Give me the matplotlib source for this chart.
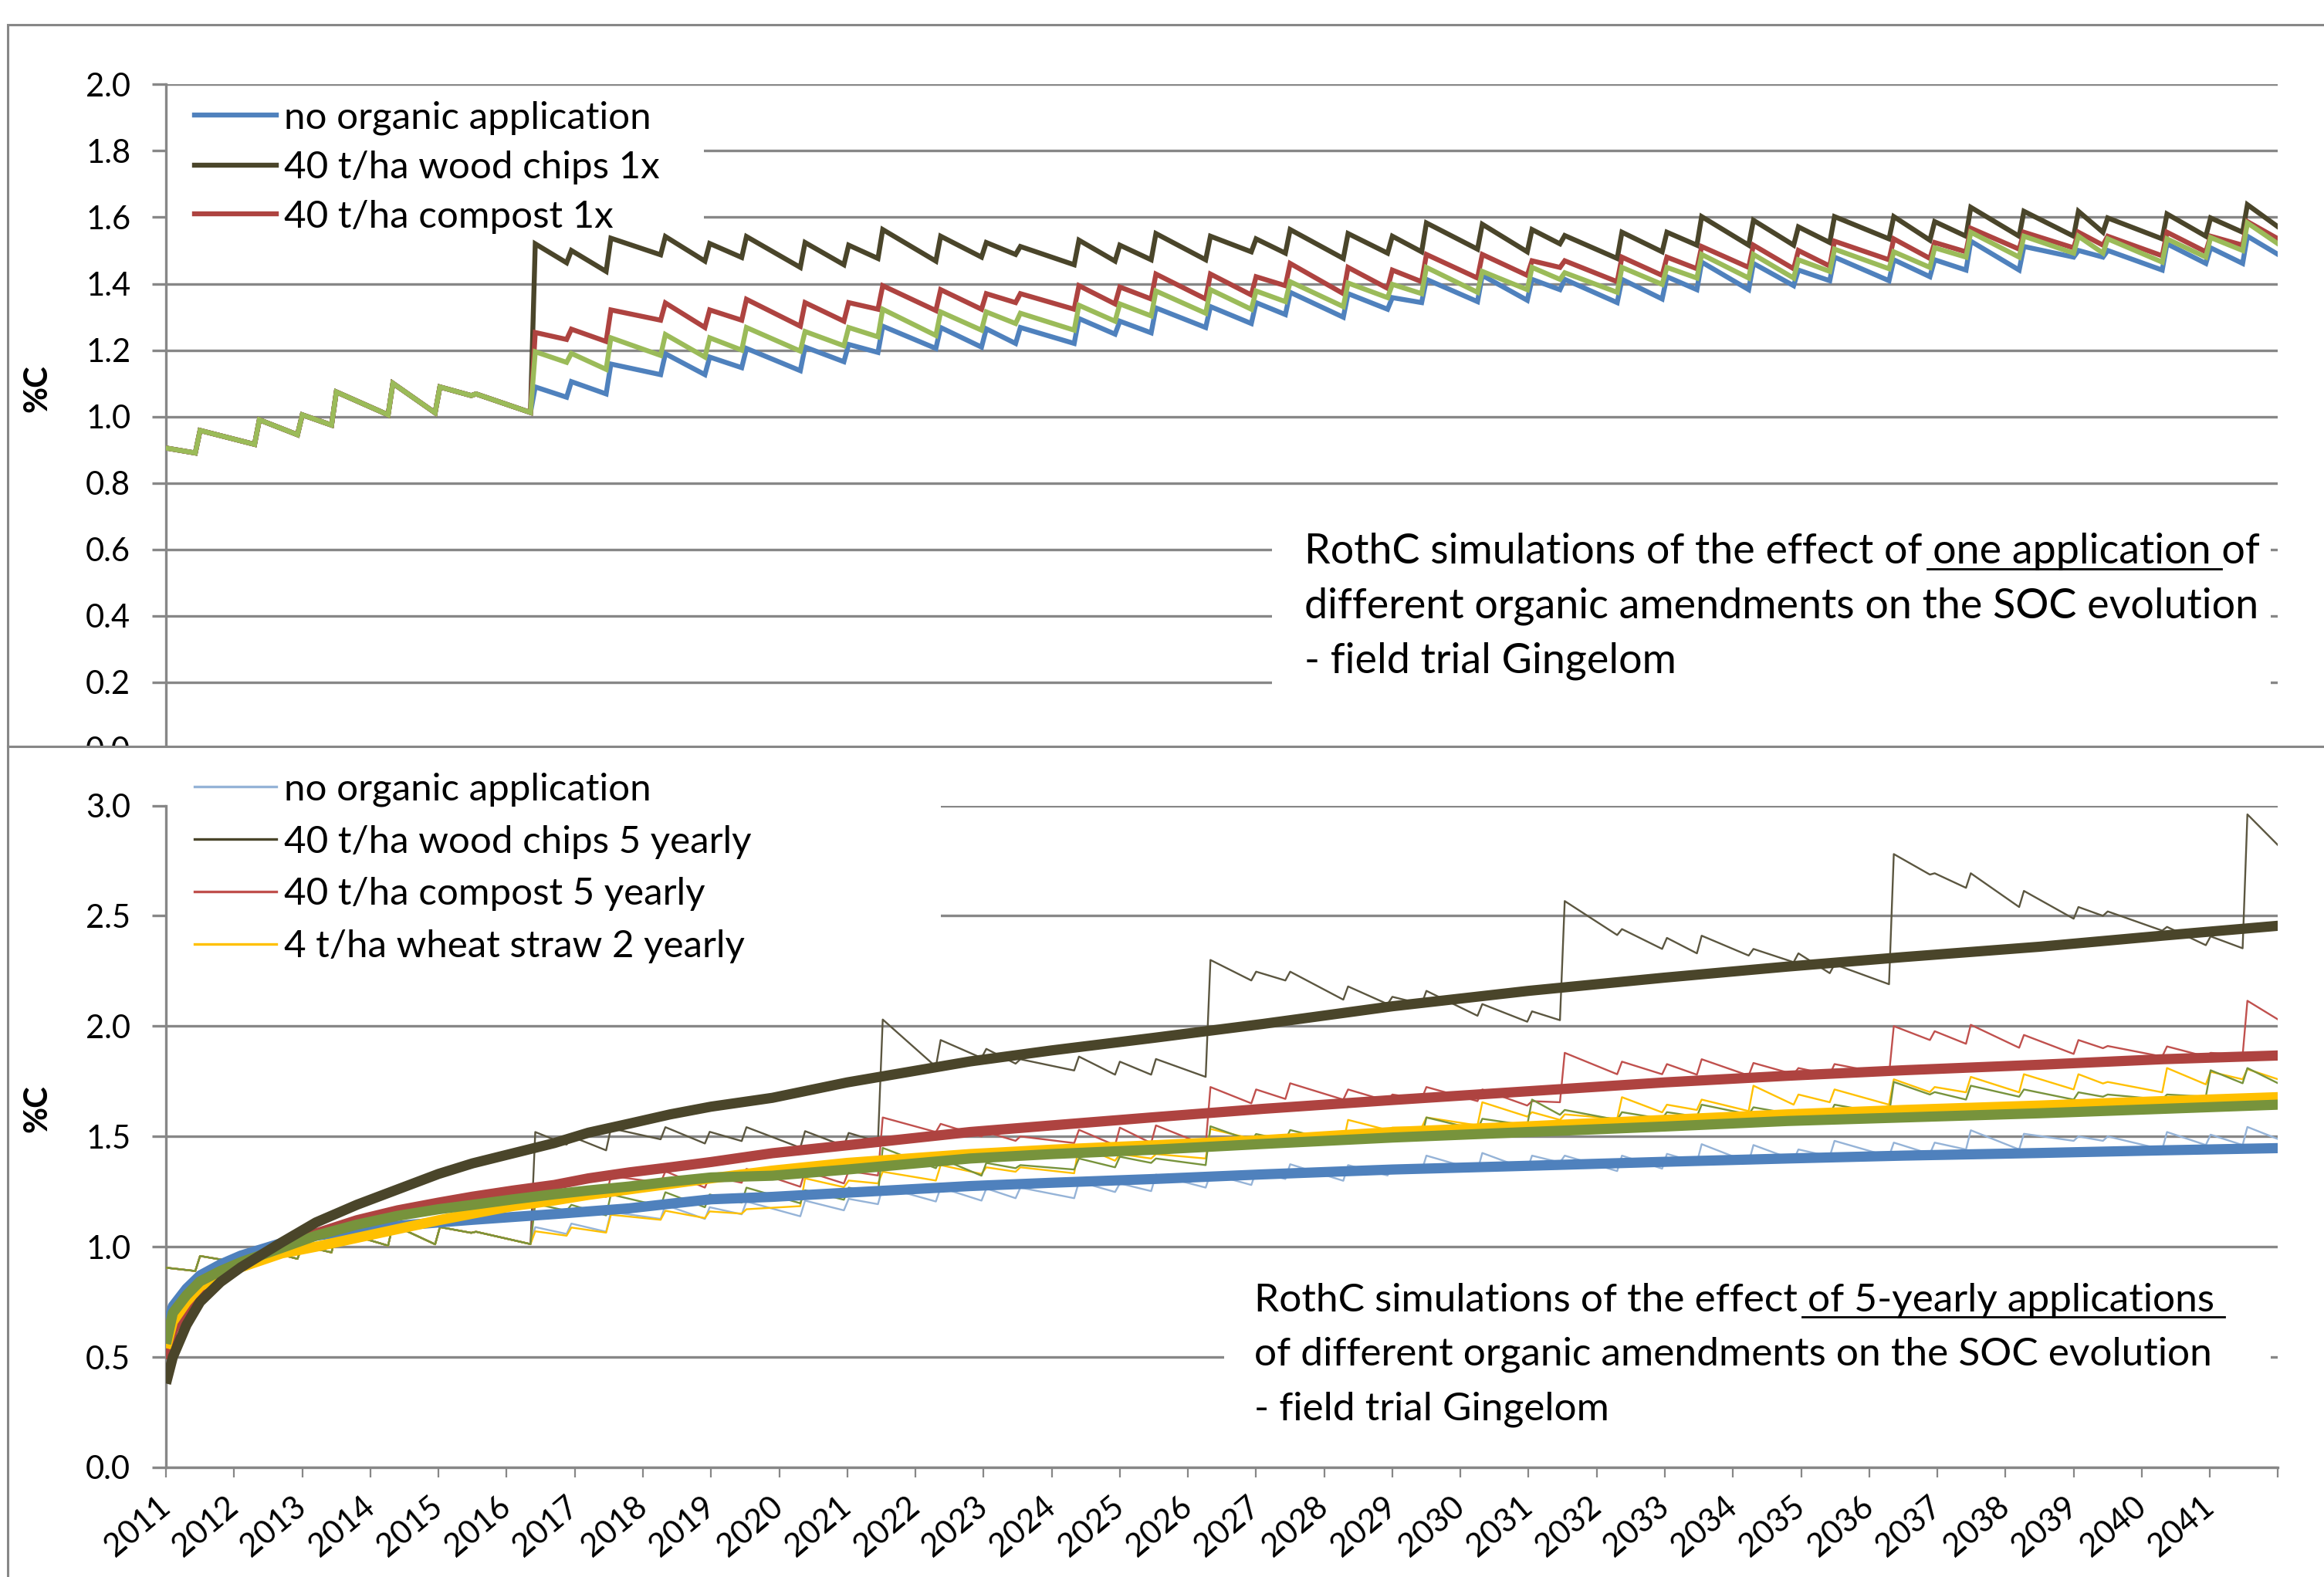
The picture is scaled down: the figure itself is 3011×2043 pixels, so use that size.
import matplotlib
matplotlib.use('Agg')
import matplotlib.pyplot as plt
from matplotlib.patches import Rectangle
from matplotlib.lines import Line2D
from matplotlib.font_manager import FontProperties

FAMILY = ['Lato', 'DejaVu Sans']
plt.rcParams['font.family'] = FAMILY

# ---------------- data ----------------
# times (decimal years) of the residue-input peaks shared by all simulated series
peak_t = [2011.50, 2012.37, 2013.00, 2013.50, 2014.33, 2015.02, 2015.55, 2016.42,
          2016.95, 2017.53, 2018.33, 2018.98, 2019.52, 2020.38, 2021.02, 2021.52,
          2022.37, 2023.04, 2023.54, 2024.40, 2025.00, 2025.53, 2026.33, 2027.00,
          2027.50, 2028.35, 2029.00, 2029.50, 2030.32, 2031.05, 2031.53, 2032.37,
          2033.03, 2033.54, 2034.30, 2034.96, 2035.49, 2036.36, 2036.96, 2037.49,
          2038.27, 2039.07, 2039.50, 2040.37, 2041.01, 2041.55]
t_start, t_end = 2011.0, 2042.0

# common history before the first application (2011 - mid 2016)
soc_start = 0.905
pre_trough = [0.89, 0.916, 0.945, 0.974, 1.005, 1.011, 1.063]
pre_peak = [0.958, 0.99, 1.005, 1.074, 1.10, 1.089, 1.068]

# --- upper chart: one application ---
none_trough = [1.012, 1.058, 1.068, 1.126, 1.126, 1.147, 1.138, 1.165, 1.193, 1.205, 1.209, 1.220, 1.220,
               1.248, 1.252, 1.268, 1.280, 1.307, 1.299, 1.323, 1.343, 1.346, 1.350, 1.382, 1.343, 1.354,
               1.382, 1.382, 1.394, 1.409, 1.409, 1.421, 1.441, 1.441, 1.480, 1.480, 1.441, 1.461, 1.461]
none_peak = [1.089, 1.105, 1.158, 1.189, 1.179, 1.205, 1.209, 1.217, 1.272, 1.268, 1.264, 1.268, 1.295,
             1.287, 1.327, 1.331, 1.343, 1.374, 1.370, 1.358, 1.413, 1.425, 1.413, 1.413, 1.413, 1.421,
             1.465, 1.461, 1.441, 1.480, 1.472, 1.472, 1.528, 1.512, 1.500, 1.500, 1.520, 1.508, 1.543]
none_end = 1.488

wood1_trough = [1.012, 1.463, 1.437, 1.487, 1.468, 1.479, 1.449, 1.457, 1.476, 1.468, 1.480, 1.488, 1.457,
                1.468, 1.472, 1.472, 1.496, 1.492, 1.476, 1.492, 1.496, 1.504, 1.496, 1.520, 1.476, 1.496,
                1.516, 1.516, 1.516, 1.524, 1.535, 1.531, 1.543, 1.543, 1.543, 1.555, 1.535, 1.543, 1.555]
wood1_peak = [1.52, 1.50, 1.537, 1.542, 1.521, 1.542, 1.524, 1.516, 1.563, 1.543, 1.524, 1.512, 1.531,
              1.516, 1.551, 1.543, 1.535, 1.563, 1.551, 1.543, 1.583, 1.579, 1.563, 1.545, 1.555, 1.555,
              1.602, 1.591, 1.571, 1.602, 1.602, 1.587, 1.630, 1.618, 1.618, 1.598, 1.610, 1.598, 1.638]
wood1_end = 1.571

comp1_trough = [1.012, 1.232, 1.226, 1.29, 1.268, 1.29, 1.272, 1.287, 1.323, 1.319, 1.323, 1.343, 1.323,
                1.339, 1.354, 1.354, 1.366, 1.394, 1.370, 1.386, 1.406, 1.417, 1.425, 1.449, 1.406, 1.425,
                1.445, 1.449, 1.445, 1.453, 1.472, 1.476, 1.496, 1.504, 1.508, 1.516, 1.484, 1.496, 1.516]
comp1_peak = [1.253, 1.263, 1.321, 1.342, 1.321, 1.353, 1.343, 1.343, 1.394, 1.382, 1.370, 1.370, 1.394,
              1.390, 1.429, 1.429, 1.421, 1.461, 1.449, 1.441, 1.488, 1.488, 1.469, 1.469, 1.480, 1.480,
              1.512, 1.516, 1.500, 1.528, 1.535, 1.524, 1.567, 1.555, 1.555, 1.543, 1.555, 1.543, 1.587]
comp1_end = 1.535

other1_trough = [1.012, 1.163, 1.142, 1.184, 1.179, 1.20, 1.197, 1.213, 1.240, 1.244, 1.260, 1.280, 1.260,
                 1.287, 1.303, 1.311, 1.323, 1.346, 1.331, 1.358, 1.370, 1.374, 1.382, 1.413, 1.374, 1.398,
                 1.417, 1.417, 1.417, 1.437, 1.445, 1.449, 1.480, 1.480, 1.492, 1.492, 1.465, 1.480, 1.500]
other1_peak = [1.195, 1.19, 1.237, 1.247, 1.237, 1.268, 1.256, 1.268, 1.323, 1.315, 1.315, 1.311, 1.335,
               1.339, 1.378, 1.382, 1.378, 1.406, 1.402, 1.398, 1.449, 1.437, 1.449, 1.433, 1.449, 1.449,
               1.488, 1.488, 1.472, 1.504, 1.496, 1.508, 1.555, 1.543, 1.543, 1.535, 1.535, 1.539, 1.583]
other1_end = 1.520

# --- lower chart: repeated applications ---
wood5_trough = [1.012, 1.463, 1.437, 1.487, 1.468, 1.479, 1.449, 1.457, 1.476, 1.816, 1.856, 1.83, 1.799,
                1.78, 1.78, 1.77, 2.207, 2.207, 2.12, 2.10, 2.10, 2.047, 2.02, 2.027, 2.413, 2.35,
                2.33, 2.32, 2.29, 2.24, 2.19, 2.687, 2.627, 2.54, 2.487, 2.50, 2.433, 2.367, 2.353]
wood5_peak = [1.52, 1.50, 1.537, 1.542, 1.521, 1.542, 1.524, 1.516, 2.03, 1.937, 1.897, 1.85, 1.862,
              1.839, 1.851, 2.30, 2.247, 2.247, 2.18, 2.133, 2.16, 2.10, 2.067, 2.567, 2.44, 2.40,
              2.41, 2.35, 2.33, 2.28, 2.78, 2.693, 2.693, 2.613, 2.54, 2.52, 2.45, 2.407, 2.96]
wood5_end = 2.82

comp5_trough = [1.012, 1.232, 1.226, 1.29, 1.268, 1.29, 1.272, 1.287, 1.323, 1.52, 1.50, 1.48, 1.47,
                1.46, 1.47, 1.46, 1.65, 1.67, 1.667, 1.66, 1.67, 1.66, 1.64, 1.655, 1.782, 1.782,
                1.78, 1.776, 1.782, 1.78, 1.78, 1.937, 1.92, 1.902, 1.874, 1.90, 1.862, 1.862, 1.868]
comp5_peak = [1.253, 1.263, 1.321, 1.342, 1.321, 1.353, 1.343, 1.343, 1.586, 1.557, 1.52, 1.50, 1.53,
              1.54, 1.55, 1.724, 1.713, 1.741, 1.713, 1.69, 1.724, 1.713, 1.66, 1.879, 1.839, 1.828,
              1.85, 1.833, 1.81, 1.828, 2.0, 1.977, 2.006, 1.96, 1.937, 1.91, 1.908, 1.879, 2.115]
comp5_end = 2.03

straw2_trough = [1.012, 1.05, 1.064, 1.122, 1.13, 1.15, 1.184, 1.27, 1.287, 1.30, 1.33, 1.34, 1.333,
                 1.39, 1.40, 1.40, 1.49, 1.47, 1.47, 1.529, 1.54, 1.55, 1.59, 1.575, 1.58, 1.609,
                 1.62, 1.615, 1.644, 1.655, 1.644, 1.701, 1.70, 1.70, 1.713, 1.74, 1.70, 1.736, 1.759]
straw2_peak = [1.07, 1.087, 1.145, 1.163, 1.16, 1.17, 1.31, 1.30, 1.34, 1.37, 1.36, 1.36, 1.46,
               1.42, 1.42, 1.534, 1.50, 1.49, 1.575, 1.54, 1.586, 1.655, 1.61, 1.60, 1.678, 1.644,
               1.667, 1.73, 1.69, 1.713, 1.759, 1.724, 1.77, 1.782, 1.782, 1.747, 1.81, 1.793, 1.805]
straw2_end = 1.759

other5_trough = [1.012, 1.163, 1.142, 1.184, 1.179, 1.20, 1.197, 1.213, 1.240, 1.356, 1.322, 1.356, 1.35,
                 1.36, 1.38, 1.37, 1.48, 1.483, 1.47, 1.48, 1.49, 1.53, 1.55, 1.598, 1.575, 1.58,
                 1.59, 1.60, 1.60, 1.60, 1.60, 1.69, 1.667, 1.68, 1.667, 1.68, 1.667, 1.68, 1.741]
other5_peak = [1.195, 1.19, 1.237, 1.247, 1.237, 1.268, 1.256, 1.268, 1.448, 1.40, 1.38, 1.37, 1.40,
               1.408, 1.40, 1.546, 1.511, 1.529, 1.52, 1.50, 1.586, 1.58, 1.667, 1.62, 1.61, 1.61,
               1.644, 1.632, 1.62, 1.644, 1.747, 1.701, 1.73, 1.713, 1.70, 1.69, 1.69, 1.80, 1.81]
other5_end = 1.741

# smooth trend curves (thick lines)
trend_t = [2011.0, 2011.1, 2011.3, 2011.5, 2011.8, 2012.1, 2012.7, 2013.2, 2013.8, 2014.4, 2015.0,
           2015.5, 2016.1, 2016.7, 2017.2, 2017.8, 2018.4, 2019.0, 2019.9, 2021.0, 2022.8, 2024.0,
           2025.5, 2027.1, 2029.0, 2031.0, 2033.0, 2034.8, 2036.5, 2038.5, 2040.3, 2042.0]
trend_none = [0.62, 0.73, 0.81, 0.87, 0.92, 0.96, 1.017, 1.05, 1.075, 1.095, 1.11, 1.122, 1.135, 1.148,
              1.16, 1.174, 1.195, 1.215, 1.226, 1.245, 1.275, 1.29, 1.307, 1.328, 1.35, 1.367, 1.385,
              1.40, 1.413, 1.425, 1.437, 1.447]
trend_wood = [0.38, 0.50, 0.645, 0.75, 0.84, 0.907, 1.02, 1.11, 1.19, 1.26, 1.33, 1.378, 1.424, 1.47,
              1.517, 1.558, 1.60, 1.635, 1.675, 1.745, 1.84, 1.89, 1.947, 2.01, 2.09, 2.16, 2.22, 2.27,
              2.313, 2.36, 2.41, 2.455]
trend_comp = [0.49, 0.62, 0.73, 0.80, 0.87, 0.92, 1.00, 1.06, 1.12, 1.165, 1.20, 1.227, 1.255, 1.28,
              1.31, 1.337, 1.36, 1.384, 1.424, 1.46, 1.52, 1.55, 1.587, 1.625, 1.665, 1.705, 1.745,
              1.775, 1.80, 1.825, 1.85, 1.867]
trend_straw = [0.54, 0.66, 0.75, 0.82, 0.87, 0.907, 0.97, 1.00, 1.04, 1.08, 1.12, 1.15, 1.185, 1.21,
               1.235, 1.26, 1.285, 1.31, 1.345, 1.38, 1.42, 1.44, 1.46, 1.483, 1.52, 1.546, 1.575,
               1.60, 1.62, 1.64, 1.66, 1.678]
trend_other = [0.56, 0.70, 0.78, 0.843, 0.89, 0.93, 0.995, 1.05, 1.10, 1.14, 1.17, 1.19, 1.215, 1.238,
               1.255, 1.273, 1.295, 1.314, 1.322, 1.35, 1.40, 1.42, 1.44, 1.466, 1.495, 1.52, 1.545,
               1.57, 1.586, 1.605, 1.625, 1.644]

top_labels = ['no organic application', '40 t/ha wood chips 1x', '40 t/ha compost 1x']
bot_labels = ['no organic application', '40 t/ha wood chips 5 yearly',
              '40 t/ha compost 5 yearly', '4 t/ha wheat straw 2 yearly']
year_ticks = list(range(2011, 2043))
year_labels = [str(y) for y in range(2011, 2042)] + ['']

RISE = 0.07  # duration of the rise to each input peak (years)


def series(post_trough, post_peak, end):
    troughs = pre_trough + post_trough
    peaks = pre_peak + post_peak
    t, v = [t_start], [soc_start]
    for p, tr, pk in zip(peak_t, troughs, peaks):
        t += [p - RISE, p]
        v += [tr, pk]
    t.append(t_end)
    v.append(end)
    return t, v


# ---------------- styling ----------------
GRAY = '#878787'
C_BLUE = '#4F81BD'
C_LBLUE = '#95B3D7'
C_DARK = '#4A452A'
C_RED = '#AE4340'
C_LRED = '#C0504D'
C_GREEN = '#9BBB59'
C_OLIVE = '#77933C'
C_YEL = '#FFC000'

W, H = 3011, 2043
fig = plt.figure(figsize=(W / 100, H / 100), dpi=100)
fig.patch.set_facecolor('white')


def fx(px):
    return px / 1568.0


def fy(py):
    return 1 - py / 1064.0


SEP = 0.5267
# top chart-area frame
fig.add_artist(Rectangle((0.0032, SEP), 1.2, 0.9843 - SEP, transform=fig.transFigure,
                         fill=False, ec=GRAY, lw=2.2, zorder=0.2))

ax1 = fig.add_axes([fx(112), fy(505), fx(1537) - fx(112), fy(57) - fy(505)], zorder=1)
ax_bg = fig.add_axes([0.0032, -0.05, 1.2, SEP + 0.05], zorder=2)
ax2 = fig.add_axes([fx(112), fy(990), fx(1537) - fx(112), fy(543.5) - fy(990)], zorder=3)

ax_bg.set_xticks([])
ax_bg.set_yticks([])
ax_bg.set_facecolor('white')
for s in ax_bg.spines.values():
    s.set_color(GRAY)
    s.set_linewidth(2.2)

TICK_FS = 30


def style_axis(ax, ymax, ystep, fmt):
    ax.set_xlim(t_start, t_end)
    ax.set_ylim(0, ymax)
    n = int(round(ymax / ystep))
    ax.set_yticks([i * ystep for i in range(n + 1)])
    ax.set_yticklabels([fmt % (i * ystep) for i in range(n + 1)])
    ax.yaxis.grid(True, color=GRAY, lw=2.4)
    ax.set_axisbelow(True)
    ax.tick_params(axis='y', direction='out', length=13, width=2.4, color=GRAY,
                   pad=20, labelsize=TICK_FS)
    for k in ('top', 'right'):
        ax.spines[k].set_visible(False)
    ax.spines['left'].set_color(GRAY)
    ax.spines['left'].set_linewidth(2.4)
    ax.patch.set_alpha(0)


style_axis(ax1, 2.0, 0.2, '%.1f')
ax1.spines['bottom'].set_visible(False)
ax1.set_xticks([])

style_axis(ax2, 3.0, 0.5, '%.1f')
ax2.spines['bottom'].set_color(GRAY)
ax2.spines['bottom'].set_linewidth(2.4)
ax2.set_xticks(year_ticks)
ax2.set_xticklabels(year_labels)
ax2.tick_params(axis='x', direction='out', length=9, width=1.6, color=GRAY, pad=24,
                labelsize=30)
for lab in ax2.get_xticklabels():
    lab.set_rotation(40)
    lab.set_ha('right')
    lab.set_va('center')
    lab.set_rotation_mode('anchor')

# ---------------- top panel lines ----------------
LW_TOP = 4.6
for (tr, pk, en, col) in [(none_trough, none_peak, none_end, C_BLUE),
                          (wood1_trough, wood1_peak, wood1_end, C_DARK),
                          (comp1_trough, comp1_peak, comp1_end, C_RED),
                          (other1_trough, other1_peak, other1_end, C_GREEN)]:
    t, v = series(tr, pk, en)
    ax1.plot(t, v, color=col, lw=LW_TOP, zorder=3, solid_joinstyle='miter')

# ---------------- bottom panel lines ----------------
LW_THIN = 1.7
for (tr, pk, en, col) in [(none_trough, none_peak, none_end, C_LBLUE),
                          (wood5_trough, wood5_peak, wood5_end, '#5B5640'),
                          (comp5_trough, comp5_peak, comp5_end, C_LRED),
                          (straw2_trough, straw2_peak, straw2_end, C_YEL),
                          (other5_trough, other5_peak, other5_end, C_OLIVE)]:
    t, v = series(tr, pk, en)
    ax2.plot(t, v, color=col, lw=LW_THIN, zorder=3)

LW_THICK = 9.5
for vals, col in [(trend_none, C_BLUE), (trend_comp, C_RED), (trend_straw, C_YEL),
                  (trend_other, C_OLIVE), (trend_wood, C_DARK)]:
    ax2.plot(trend_t, vals, color=col, lw=LW_THICK, zorder=4, solid_capstyle='butt')

# ---------------- white boxes (legend / text areas) ----------------
ax1.add_patch(Rectangle((0, 0.77), 0.2547, 0.215, transform=ax1.transAxes, fc='white',
                        ec='none', zorder=1.5, clip_on=False))
ax1.add_patch(Rectangle((0.5235, 0.078), 0.473, 0.279, transform=ax1.transAxes, fc='white',
                        ec='none', zorder=1.5, clip_on=False))
ax2.add_patch(Rectangle((0, 0.749), 0.367, 0.314, transform=ax2.transAxes, fc='white',
                        ec='none', zorder=1.5, clip_on=False))
ax2.add_patch(Rectangle((0.501, 0.05), 0.4955, 0.25, transform=ax2.transAxes, fc='white',
                        ec='none', zorder=1.5, clip_on=False))

# ---------------- legends ----------------
LEG_FS = 35.5
h_top = [Line2D([], [], color=c, lw=LW_TOP) for c in (C_BLUE, C_DARK, C_RED)]
leg1 = ax1.legend(h_top, top_labels, loc='upper left', bbox_to_anchor=(fx(131), fy(68)),
                  bbox_transform=fig.transFigure, frameon=False, fontsize=LEG_FS,
                  handlelength=2.15, handletextpad=0.22, labelspacing=0.40, borderpad=0,
                  borderaxespad=0)
leg1.set_zorder(6)

h_bot = [Line2D([], [], color=c, lw=2.4) for c in (C_LBLUE, C_DARK, C_LRED, C_YEL)]
leg2 = ax2.legend(h_bot, bot_labels, loc='upper left', bbox_to_anchor=(fx(131), fy(521)),
                  bbox_transform=fig.transFigure, frameon=False, fontsize=LEG_FS,
                  handlelength=2.15, handletextpad=0.22, labelspacing=0.48, borderpad=0,
                  borderaxespad=0)
leg2.set_zorder(6)

# ---------------- y labels ----------------
fig.text(fx(25), fy(262), '%C', rotation=90, ha='center', va='center', fontsize=30,
         fontweight='bold', zorder=1)
fig.text(fx(25), fy(748), '%C', rotation=90, ha='center', va='center', fontsize=30,
         fontweight='bold', zorder=5)

# ---------------- annotations with underline ----------------
renderer = fig.canvas.get_renderer()


def twidth(s, fs):
    prop = FontProperties(family=FAMILY, size=fs)
    w, _, _ = renderer.get_text_width_height_descent(s, prop, ismath=False)
    return w


def annotation(lines, x_px, base_px, ul_before, ul_text, fs, zord):
    x0 = fx(x_px)
    space = twidth('a a', fs) - twidth('aa', fs)
    for s, b in zip(lines, base_px):
        fig.text(x0, fy(b), s, fontsize=fs, ha='left', va='baseline', zorder=zord)
    xa = x0 + (twidth(ul_before, fs) + space * 0.5) / W
    xb = x0 + (twidth(ul_before + ' ' + ul_text, fs) + space) / W
    yu = fy(base_px[0]) - 7.0 / H
    fig.add_artist(Line2D([xa, xb], [yu, yu], transform=fig.transFigure, color='black',
                          lw=2.0, zorder=zord))


annotation(['RothC simulations of the effect of one application of',
            'different organic amendments on the SOC evolution',
            '- field trial Gingelom'],
           880, [380, 417, 454], 'RothC simulations of the effect of', 'one application',
           38.8, 1.5)
annotation(['RothC simulations of the effect of 5-yearly applications',
            'of different organic amendments on the SOC evolution',
            '- field trial Gingelom'],
           846, [885, 921, 958], 'RothC simulations of the effect', 'of 5-yearly applications',
           37, 5)

fig.savefig('out.png', dpi=100, facecolor='white')
